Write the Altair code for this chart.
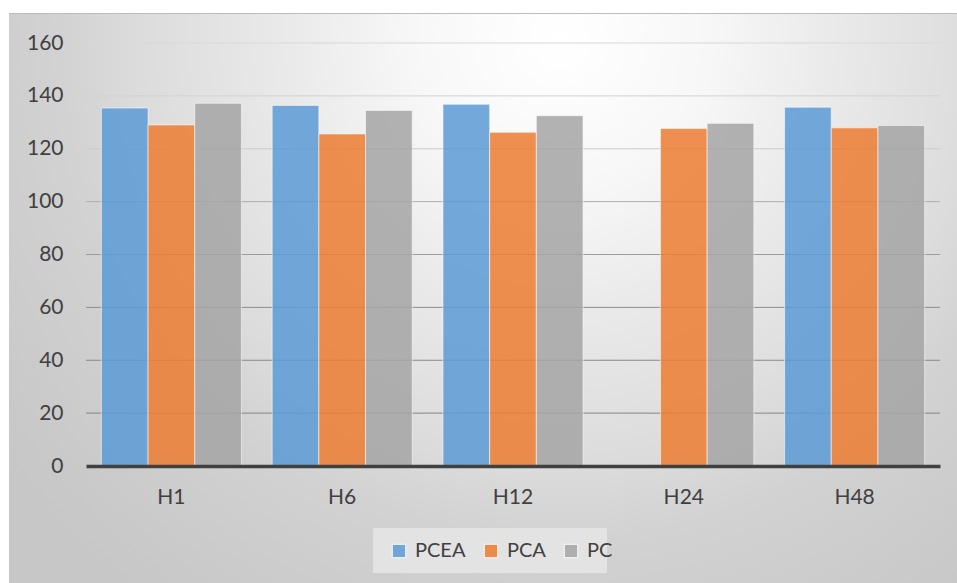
import altair as alt
import pandas as pd

# Series values per time point (PCEA has no value at H24)
categories = ["H1", "H6", "H12", "H24", "H48"]
series = ["PCEA", "PCA", "PC"]
pcea = [135.4, 136.4, 136.8, None, 135.7]
pca = [129.0, 125.6, 126.2, 127.7, 127.9]
pc = [137.2, 134.5, 132.5, 129.6, 128.8]
y_ticks = [0, 20, 40, 60, 80, 100, 120, 140, 160]

rows = []
for name, vals in zip(series, [pcea, pca, pc]):
    for cat, v in zip(categories, vals):
        if v is not None:
            rows.append({"cat": cat, "series": name, "value": v})
df = pd.DataFrame(rows)
grid_df = pd.DataFrame({"tick": y_ticks[1:]})
one = pd.DataFrame({"k": [0]})

FONT = "Lato"
TEXT = "#404040"
W, H = 854, 423

# Soft radial backdrop of the chart area
backdrop = alt.Chart(one).mark_rect(
    color={
        "gradient": "radial",
        "x1": 0.459, "y1": 0.0225, "r1": 0,
        "x2": 0.459, "y2": 0.0225, "r2": 0.583,
        "stops": [
            {"offset": 0.0, "color": "#ffffff"},
            {"offset": 0.214, "color": "#f7f7f7"},
            {"offset": 0.386, "color": "#eaeaea"},
            {"offset": 0.6, "color": "#dcdcdc"},
            {"offset": 0.714, "color": "#d2d2d2"},
            {"offset": 0.93, "color": "#c9c9c9"},
            {"offset": 1.0, "color": "#c7c7c7"},
        ],
    }
).encode(
    x=alt.value(-77), x2=alt.value(1123), y=alt.value(-30), y2=alt.value(1170)
)

top_edge = alt.Chart(one).mark_rule(color="#bcbcbc", strokeWidth=1).encode(
    x=alt.value(-77), x2=alt.value(871), y=alt.value(-29.5)
)

legend_box = alt.Chart(one).mark_rect(color="#e3e3e3").encode(
    x=alt.value(287), x2=alt.value(521), y=alt.value(485), y2=alt.value(530)
)

yscale = alt.Scale(domain=[0, 160], nice=False)

grid = alt.Chart(grid_df).mark_rule(strokeWidth=1).encode(
    y=alt.Y("tick:Q", scale=yscale),
    x=alt.value(0),
    x2=alt.value(W),
    stroke=alt.Stroke(
        "tick:Q",
        scale=alt.Scale(
            domain=[20, 60, 100, 120, 160],
            range=["#848484", "#8c8c8c", "#adadad", "#cbcbcb", "#d9d9d9"],
        ),
        legend=None,
    ),
)

bars = alt.Chart(df).mark_bar(
    fillOpacity=0.85, stroke="white", strokeOpacity=0.55, strokeWidth=1
).encode(
    x=alt.X(
        "cat:N",
        sort=categories,
        scale=alt.Scale(paddingInner=0.18, paddingOuter=0.09),
        axis=alt.Axis(
            title=None, ticks=False, domain=True, domainColor=TEXT,
            domainWidth=3.5, labelAngle=0, labelFontSize=21, zindex=2,
            labelColor=TEXT, labelFont=FONT, labelPadding=20,
        ),
    ),
    xOffset=alt.XOffset("series:N", sort=series, scale=alt.Scale(paddingInner=0)),
    y=alt.Y(
        "value:Q",
        scale=yscale,
        axis=alt.Axis(
            title=None, values=y_ticks, ticks=False, domain=False, grid=False,
            labelFontSize=21, labelColor=TEXT, labelFont=FONT, labelPadding=23,
            zindex=2,
        ),
    ),
    color=alt.Color(
        "series:N",
        sort=series,
        scale=alt.Scale(domain=series, range=["#5B9BD5", "#ED7D31", "#A5A5A5"]),
        legend=alt.Legend(
            title=None, orient="none", direction="horizontal",
            legendX=303, legendY=498, padding=0, zindex=2,
            symbolType="square", symbolSize=180, symbolOpacity=0.85,
            symbolStrokeColor="white", symbolStrokeWidth=1,
            labelFontSize=20, labelFont=FONT, labelColor=TEXT,
            labelOffset=6, columnPadding=15,
        ),
    ),
)

chart = alt.layer(backdrop, top_edge, legend_box, grid, bars).properties(
    width=W,
    height=H,
    autosize="none",
    padding={"left": 86, "top": 43, "right": 17, "bottom": 117},
).configure_view(stroke=None).configure(background="white")

chart.save("out.html", embed_options={"renderer": "svg", "actions": False})
